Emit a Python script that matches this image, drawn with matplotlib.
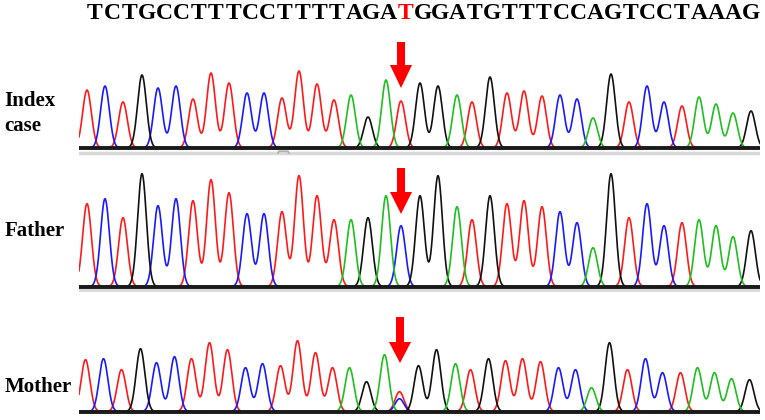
# Sanger chromatograms for index case, father and mother
import numpy as np
import matplotlib
matplotlib.use('Agg')
import matplotlib.pyplot as plt
from matplotlib.transforms import blended_transform_factory

plt.rcParams['font.family'] = ['Liberation Serif', 'DejaVu Serif']

# reference sequence (index case), mutated base at position 18
seq = "TCTGCCTTTCCTTTTAGATGGATGTTTCCAGTCCTAAAG"
mut = 18

# peak centres (same run spacing for all three traces)
pos = [87, 105, 123, 142, 158, 176, 193, 211, 229, 247, 264, 282, 299, 317, 334,
       351, 368, 386, 401, 420, 438, 457, 472, 490, 507, 524, 542, 560, 577, 593,
       611, 629, 647, 664, 682, 699, 716, 733, 751]

# peak heights
index_h = [58, 62, 46, 73, 60, 62, 49, 75, 65, 55, 55, 50, 77, 64, 48, 53, 31, 68, 47, 65,
           62, 53, 46, 71, 55, 57, 52, 53, 49, 30, 74, 46, 62, 46, 42, 51, 44, 35, 37]
father_h = [83, 88, 69, 113, 81, 88, 86, 107, 94, 73, 73, 75, 111, 91, 67, 67, 69, 91, 61, 91,
            111, 80, 67, 91, 83, 86, 80, 75, 64, 39, 113, 69, 83, 61, 64, 67, 61, 50, 56]
mother_h = [52, 53, 42, 63, 49, 55, 53, 69, 62, 44, 48, 46, 71, 59, 44, 44, 30, 57, 20, 46,
            62, 48, 42, 53, 51, 53, 50, 44, 42, 24, 69, 42, 53, 39, 39, 44, 39, 33, 32]

father_seq = seq[:mut] + "C" + seq[mut + 1:]
mother_minor = {mut: ("C", 13)}

colors = {"T": "#ff1a1a", "C": "#1a1aff", "G": "#111111", "A": "#1fbf1f"}

fig = plt.figure(figsize=(7.65, 4.2), dpi=100)
W, H = 765, 420


def panel(bottom_px, top_px, base_px):
    ax = fig.add_axes([79 / W, 1 - bottom_px / H, (760 - 79) / W, (bottom_px - top_px) / H])
    ax.set_xlim(79, 760)
    ax.set_ylim(-(bottom_px - base_px), base_px - top_px)
    ax.axis('off')
    return ax


def draw_trace(ax, bases, heights, shift=0, minor=None):
    x = np.linspace(79, 760, 3000)
    sig = 4.4
    calls = list(zip(range(len(bases)), bases, heights))
    if minor:
        calls += [(i, c, h) for i, (c, h) in minor.items()]
    for b in "TCGA":
        y = np.zeros_like(x)
        for i, c, h in calls:
            if c == b:
                y += h * np.exp(-(x - pos[i] - shift) ** 2 / (2 * sig ** 2))
        ax.plot(x, y, color=colors[b], lw=1.2, zorder=3)
    ax.axhline(0, color='#1a1a1a', lw=2.8, zorder=4)


def draw_arrow(ax, x, top, head_base, tip):
    ax.arrow(x, top, 0, tip - top, width=8, head_width=22, head_length=head_base - tip,
             length_includes_head=True, color='red', lw=0, zorder=5)


ax1 = panel(157, 35, 148)
draw_trace(ax1, seq, index_h)
ax1.axhline(-5, color='#d8d8d8', lw=2.5, zorder=2)
ax1.plot([278, 279, 288, 289], [-5, -3.2, -3.2, -5], color='#b0b0b0', lw=1.2, zorder=2)
draw_arrow(ax1, pos[mut], 106, 83, 60)

ax2 = panel(292, 162, 286.7)
draw_trace(ax2, father_seq, father_h)
ax2.axhline(-3.5, color='#d8d8d8', lw=2, zorder=2)
draw_arrow(ax2, pos[mut], 118.7, 94.7, 72.7)

ax3 = panel(418, 312, 411.7)
draw_trace(ax3, seq, mother_h, shift=-1.5, minor=mother_minor)
draw_arrow(ax3, pos[mut] - 1, 94.7, 69.7, 48.7)

# sequence on top, one letter per base
tr = blended_transform_factory(ax1.transData, fig.transFigure)
letter_x = np.linspace(95, 751, len(seq))
for i, c in enumerate(seq):
    fig.text(letter_x[i], 1 - 19 / H, c, transform=tr, ha='center', va='baseline',
             fontsize=17, fontweight='bold', color='red' if i == mut else 'black')

lab = dict(fontsize=15, fontweight='bold', ha='left', va='baseline')
fig.text(4 / W, 1 - 106 / H, "Index", **lab)
fig.text(4 / W, 1 - 131 / H, "case", **lab)
fig.text(5 / W, 1 - 236 / H, "Father", **lab)
fig.text(5 / W, 1 - 392 / H, "Mother", **lab)

fig.savefig('out.png', dpi=100)
